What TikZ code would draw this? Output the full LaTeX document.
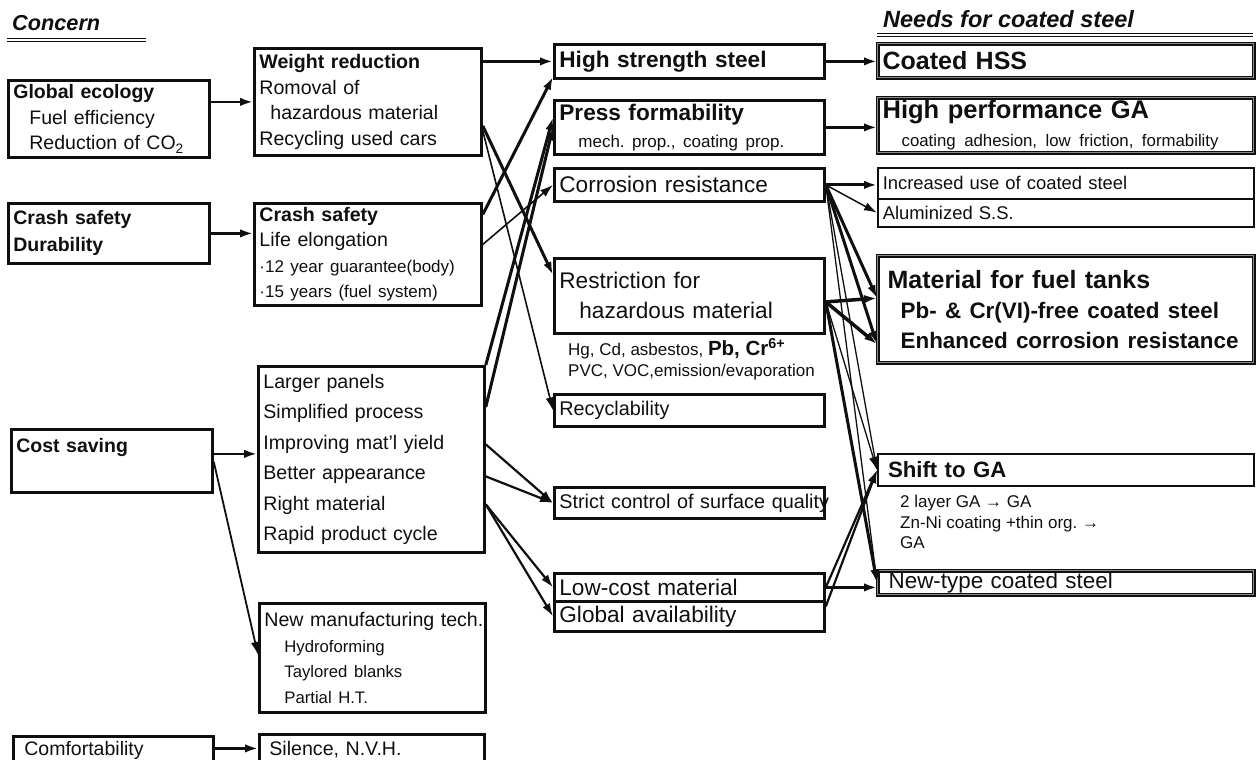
\documentclass[tikz,border=0pt]{standalone}
\usepackage{fontspec}
\setmainfont{Liberation Sans}
\usetikzlibrary{arrows.meta}
\definecolor{ink}{RGB}{15, 15, 15}
\definecolor{rim}{RGB}{140, 140, 140}
\def\fsz#1#2{\fontsize{#1}{#2}\selectfont}
\frenchspacing

\begin{document}
\begin{tikzpicture}[
    x=1pt, y=-1pt,
    box/.style 2 args={
        rectangle,
        draw=ink,
        line width=2.8pt,
        anchor=north west,
        inner xsep=5pt,
        inner ysep=0pt,
        text width=#1,
        minimum height=#2,
        align=left,
        text=ink
    },
    needbox/.style 2 args={
        box={#1}{#2},
        line width=1.3pt,
        double=rim,
        double distance=1.4pt
    },
    thinbox/.style 2 args={
        box={#1}{#2},
        line width=1.5pt
    },
    heading/.style={
        anchor=base west,
        inner sep=0pt,
        text=ink,
        font=\fsz{21.7}{26}\bfseries\itshape
    },
    note/.style={
        anchor=north west,
        inner sep=0pt,
        align=left,
        text=ink
    },
    rule/.style={
        draw=ink,
        line width=1.1pt,
        double=white,
        double distance=1.3pt
    },
    arrow/.style={
        -{Latex[length=13pt, width=8.5pt]},
        draw=ink,
        line width=#1
    },
    arrow/.default=2.2pt
]
\useasboundingbox (0,0) rectangle (1256,760);

% Headings
\node[heading] (concern) at (12,31) {Concern};
\node[heading, font=\fsz{23.5}{28}\bfseries\itshape] (needs) at (883,28) {Needs for coated steel};
\draw[rule] (7,40) -- (146,40);
\draw[rule] (877,35) -- (1253,35);

% Position the concerns
\node[box={191pt}{77pt}, font=\fsz{19.5}{25.5}] (glob) at (7,79) {\textbf{Global ecology}\\\hspace*{16pt}Fuel efficiency\\\hspace*{16pt}Reduction of CO\textsubscript{2}};
\node[box={191pt}{60pt}, font=\fsz{19.5}{27}] (crashL) at (7,202) {\textbf{Crash safety}\\\textbf{Durability}};
\node[box={191pt}{63pt}, font=\fsz{19.5}{30}] (cost) at (10,428) {\textbf{Cost saving}\\\mbox{}};
\node[box={190pt}{50pt}, font=\fsz{19.5}{26}] (comfort) at (12,735) {\hspace*{6pt}Comfortability\\\mbox{}};

% Position the measures
\node[box={217pt}{107pt}, font=\fsz{19.6}{25.5}] (weight) at (253,47) {\textbf{Weight reduction}\\Romoval of\\\hspace*{11pt}hazardous material\\Recycling used cars};
\node[box={217pt}{102pt}, font=\fsz{19.6}{25.5}] (crashM) at (253,202) {\textbf{Crash safety}\\Life elongation\\{\fsz{17}{25.5}·12 year guarantee(body)}\\{\fsz{17}{25.5}·15 years (fuel system)}};
\node[box={216pt}{186pt}, font=\fsz{19.6}{30.4}] (larger) at (257,365) {Larger panels\\Simplified process\\Improving mat'l yield\\Better appearance\\Right material\\Rapid product cycle};
\node[box={216pt}{109pt}, font=\fsz{19.6}{25.5}] (newtech) at (258,602) {\mbox{New manufacturing tech.}\\\hspace*{20pt}{\fsz{16.7}{25.5}Hydroforming}\\\hspace*{20pt}{\fsz{16.7}{25.5}Taylored blanks}\\\hspace*{20pt}{\fsz{16.7}{25.5}Partial H.T.}};
\node[box={215pt}{54pt}, font=\fsz{19.6}{26}] (silence) at (258,733) {\hspace*{5pt}Silence, N.V.H.\\\mbox{}};

% Position the steel properties
\node[box={260pt}{34pt}, font=\fsz{22.6}{27}] (high) at (553,43) {\textbf{High strength steel}};
\node[box={260pt}{54pt}, font=\fsz{22.6}{27}] (press) at (553,99) {\textbf{Press formability}\\\hspace*{19pt}{\fsz{17}{27}mech. prop., coating prop.}};
\node[box={260pt}{33pt}, font=\fsz{22.6}{27}] (corr) at (553,167) {Corrosion resistance};
\node[box={260pt}{75pt}, font=\fsz{22.6}{30}] (restrict) at (553,257) {Restriction for\\\hspace*{20pt}hazardous material};
\node[note, font=\fsz{17}{20.5}] (hazlist) at (568,338) {Hg, Cd, asbestos, {\fsz{20.5}{20.5}\textbf{Pb, Cr\textsuperscript{6+}}}\\PVC, VOC,emission/evaporation};
\node[box={260pt}{32pt}, font=\fsz{19.8}{24}] (recyc) at (553,393) {Recyclability};
\node[box={260pt}{31pt}, font=\fsz{19.8}{24}] (strict) at (553,486) {\mbox{Strict control of surface quality}};
\node[box={260pt}{28pt}, font=\fsz{22.6}{27}] (lowcost) at (553,572) {Low-cost material};
\node[box={260pt}{30pt}, font=\fsz{22.6}{27}] (globavail) at (553,600) {Global availability};

% Position the needs
\node[needbox={366pt}{34pt}, font=\fsz{25}{30}] (coated) at (877,43) {\textbf{Coated HSS}};
\node[needbox={366pt}{55pt}, font=\fsz{25.5}{28}] (hpga) at (877,97) {\textbf{High performance GA}\\\hspace*{19pt}{\fsz{16.8}{28}coating adhesion, low friction, formability}};
\node[thinbox={366pt}{31pt}, font=\fsz{18.4}{22}] (incr) at (877,167) {Increased use of coated steel};
\node[thinbox={366pt}{28pt}, font=\fsz{18.4}{22}] (alum) at (877,198) {Aluminized S.S.};
\node[needbox={366pt}{107pt}, font=\fsz{25}{30}] (fuel) at (877,255) {\hspace*{5pt}\textbf{Material for fuel tanks}\\\hspace*{18pt}{\fsz{22.4}{30}\textbf{Pb- \& Cr(VI)-free coated steel}}\\\hspace*{18pt}{\fsz{22.4}{30}\textbf{Enhanced corrosion resistance}}};
\node[box={366pt}{32pt}, line width=2pt, font=\fsz{22.2}{26}] (shiftga) at (877,453) {\hspace*{5pt}\textbf{Shift to GA}};
\node[note, font=\fsz{17}{20.5}] (gasub) at (900,495) {2 layer GA → GA\\Zn-Ni coating +thin org. →\\GA};
\node[needbox={366pt}{24pt}, font=\fsz{22.4}{26}] (newtype) at (877,570) {\hspace*{6pt}New-type coated steel};

% Draw the arrows: concerns to measures
\draw[arrow=2.4pt] (glob.east |- weight.west) -- (weight.west);
\draw[arrow=2.4pt] (crashL.east) -- (crashL.east -| crashM.west);
\draw[arrow=2.4pt] ([yshift=7pt]cost.east) -- ([yshift=7pt]cost.east -| larger.west);
\draw[arrow=1.8pt] ([yshift=-1pt]cost.east) -- ([yshift=3pt]newtech.west);
\draw[arrow=2.4pt] ([yshift=13pt]comfort.east) -- ([yshift=13pt]comfort.east -| silence.west);

% measures to steel properties
\draw[arrow=3pt] (weight.east |- high.west) -- (high.west);
\draw[arrow=3pt] ([yshift=-24pt]weight.east) -- ([yshift=21pt]restrict.west);
\draw[arrow=1.6pt] ([yshift=-29pt]weight.east) -- (recyc.west);
\draw[arrow=3pt] ([yshift=40pt]crashM.east) -- ([yshift=3pt]high.south west);
\draw[arrow=1.6pt] ([yshift=10pt]crashM.east) -- (corr.west);
\draw[arrow=3pt] (larger.north east) -- ([yshift=10pt]press.west);
\draw[arrow=3pt] ([yshift=-42pt]larger.north east) -- (press.west);
\draw[arrow] ([yshift=15pt]larger.east) -- (strict.west);
\draw[arrow] ([yshift=-17pt]larger.east) -- (strict.west);
\draw[arrow] ([yshift=-45pt]larger.east) -- (lowcost.west);
\draw[arrow] ([yshift=-45pt]larger.east) -- (globavail.west);

% steel properties to needs
\draw[arrow=3.5pt] (high.east) -- (high.east -| coated.west);
\draw[arrow=3.5pt] (press.east) -- (press.east -| hpga.west);
\draw[arrow=3pt] (corr.east) -- (corr.east -| incr.west);
\draw[arrow=1.5pt] (corr.east) -- (alum.west);
\draw[arrow=3pt] (corr.east) -- ([yshift=11pt]fuel.west);
\draw[arrow=3pt] (corr.east) -- ([yshift=-35pt]fuel.west);
\draw[arrow=1.3pt] (corr.east) -- (shiftga.west);
\draw[arrow=1.3pt] (corr.east) -- (newtype.west);
\draw[arrow=3.5pt] ([yshift=-6pt]restrict.east) -- ([yshift=11pt]fuel.west);
\draw[arrow=3.5pt] ([yshift=-6pt]restrict.east) -- ([yshift=-35pt]fuel.west);
\draw[arrow=1.3pt] ([yshift=-6pt]restrict.east) -- (shiftga.west);
\draw[arrow=3pt] ([yshift=-6pt]restrict.east) -- (newtype.west);
\draw[arrow=3pt] (lowcost.east) -- (lowcost.east -| newtype.west);
\draw[arrow] (lowcost.east) -- (shiftga.west);
\draw[arrow] ([yshift=10pt]globavail.east) -- (shiftga.west);

\end{tikzpicture}
\end{document}
